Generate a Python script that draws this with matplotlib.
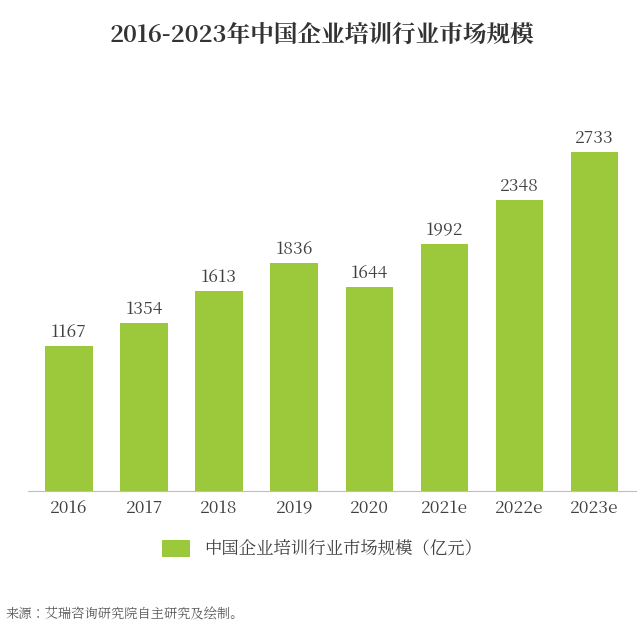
import matplotlib.pyplot as plt
import matplotlib.font_manager as fm

# 找到可用的中文字体
cjk = [f.name for f in fm.fontManager.ttflist if 'CJK' in f.name]
if not cjk:
    for path in fm.findSystemFonts():
        if 'CJK' in path or 'cjk' in path.lower():
            try:
                fm.fontManager.addfont(path)
            except Exception:
                pass
    cjk = [f.name for f in fm.fontManager.ttflist if 'CJK' in f.name]
sc = [n for n in cjk if 'SC' in n] or cjk
plt.rcParams['font.sans-serif'] = sc[:1] + ['Noto Sans CJK SC', 'DejaVu Sans']
plt.rcParams['font.family'] = 'sans-serif'
plt.rcParams['axes.unicode_minus'] = False

years = ['2016', '2017', '2018', '2019', '2020', '2021e', '2022e', '2023e']
values = [1167, 1354, 1613, 1836, 1644, 1992, 2348, 2733]

bar_color = '#9cc83b'
text_color = '#404040'

fig = plt.figure(figsize=(6.44, 6.37), dpi=100)
ax = fig.add_axes([0.043, 0.229, 0.944, 0.614])

x = range(len(years))
bars = ax.bar(x, values, width=0.63, color=bar_color, label='中国企业培训行业市场规模（亿元）')
for xi, v in zip(x, values):
    ax.text(xi, v + 40, str(v), ha='center', va='bottom', fontsize=12.5, color=text_color)

ax.set_xlim(-0.55, len(years) - 0.45)
ax.set_ylim(0, 3152)
ax.set_xticks(list(x))
ax.set_xticklabels(years, fontsize=12.5, color=text_color)
ax.tick_params(axis='x', length=0, pad=6)
ax.set_yticks([])
for side in ['top', 'right', 'left']:
    ax.spines[side].set_visible(False)
ax.spines['bottom'].set_color('#bfbfbf')

fig.text(0.5, 0.945, '2016-2023年中国企业培训行业市场规模', ha='center', va='center',
         fontsize=17, fontweight='bold', color='#333333')

fig.legend(handles=[bars], loc='center', bbox_to_anchor=(0.5, 0.138), frameon=False,
           fontsize=12.5, handlelength=1.6, handleheight=1.1, labelcolor=text_color)

fig.text(0.008, 0.036, '来源：艾瑞咨询研究院自主研究及绘制。', ha='left', va='center',
         fontsize=9.5, color='#595959')

plt.savefig('out.png', dpi=100)
